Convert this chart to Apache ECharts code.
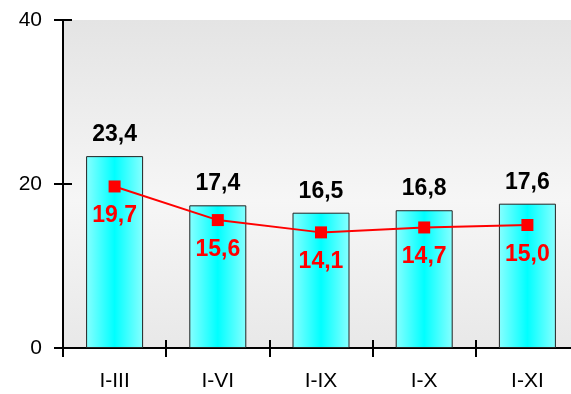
<!DOCTYPE html>
<html>
<head>
<meta charset="utf-8">
<script src="https://cdn.jsdelivr.net/npm/echarts@6/dist/echarts.min.js"></script>
<style>html,body{margin:0;padding:0;background:#fff;}#c{width:571px;height:394px;}</style>
</head>
<body>
<div id="c"></div>
<script>
var categories = ['I-III', 'I-VI', 'I-IX', 'I-X', 'I-XI'];
var barValues = [23.4, 17.4, 16.5, 16.8, 17.6];
var lineValues = [19.7, 15.6, 14.1, 14.7, 15.0];
var yTicks = [0, 20, 40];

function fmt(v) { return v.toFixed(1).replace('.', ','); }

var chart = echarts.init(document.getElementById('c'), null, {renderer: 'canvas'});
var font = 'Arial, "Liberation Sans", sans-serif';
chart.setOption({
  animation: false,
  grid: {
    left: 63, top: 20, bottom: 46, width: 516,
    outerBoundsMode: 'none', containLabel: false,
    show: true, borderWidth: 0,
    backgroundColor: {
      type: 'linear', x: 0, y: 0, x2: 0, y2: 1,
      colorStops: [
        {offset: 0, color: '#e4e4e4'},
        {offset: 0.55, color: '#f6f6f6'},
        {offset: 1, color: '#e8e8e8'}
      ]
    }
  },
  xAxis: [{
    type: 'category', data: categories,
    axisLine: {lineStyle: {color: '#000', width: 2}},
    axisTick: {show: true, length: 9, lineStyle: {color: '#000', width: 2}},
    axisLabel: {color: '#000', fontSize: 21, fontFamily: font, margin: 23}
  }, {
    type: 'category', data: categories, position: 'bottom',
    axisLine: {show: false},
    axisTick: {show: true, inside: true, length: 8, lineStyle: {color: '#000', width: 2}},
    axisLabel: {show: false}
  }],
  yAxis: [{
    type: 'value', min: yTicks[0], max: yTicks[yTicks.length - 1], interval: 20,
    axisLine: {show: true, lineStyle: {color: '#000', width: 2}},
    axisTick: {show: true, length: 9, lineStyle: {color: '#000', width: 2}},
    splitLine: {show: false},
    axisLabel: {color: '#000', fontSize: 21, fontFamily: font, margin: 21}
  }, {
    type: 'value', min: yTicks[0], max: yTicks[yTicks.length - 1], interval: 20, position: 'left',
    axisLine: {show: false},
    axisTick: {show: true, inside: true, length: 9, lineStyle: {color: '#000', width: 2}},
    splitLine: {show: false},
    axisLabel: {show: false}
  }],
  series: [{
    type: 'bar', data: barValues, barWidth: 57,
    itemStyle: {
      borderColor: '#222', borderWidth: 1,
      color: {
        type: 'linear', x: 0, y: 0, x2: 1, y2: 0,
        colorStops: [
          {offset: 0, color: '#88ffff'},
          {offset: 0.5, color: '#00ffff'},
          {offset: 1, color: '#88ffff'}
        ]
      }
    },
    label: {
      show: true, position: 'top', distance: 10,
      color: '#000', fontSize: 23, fontWeight: 'bold', fontFamily: font,
      formatter: function (p) { return fmt(p.value); }
    }
  }, {
    type: 'line', data: lineValues,
    symbol: 'rect', symbolSize: 12,
    lineStyle: {color: '#ff0000', width: 2},
    itemStyle: {color: '#ff0000'},
    label: {
      show: true, position: 'bottom', distance: 12,
      color: '#ff0000', fontSize: 23, fontWeight: 'bold', fontFamily: font,
      formatter: function (p) { return fmt(p.value); }
    }
  }]
});
</script>
</body>
</html>
